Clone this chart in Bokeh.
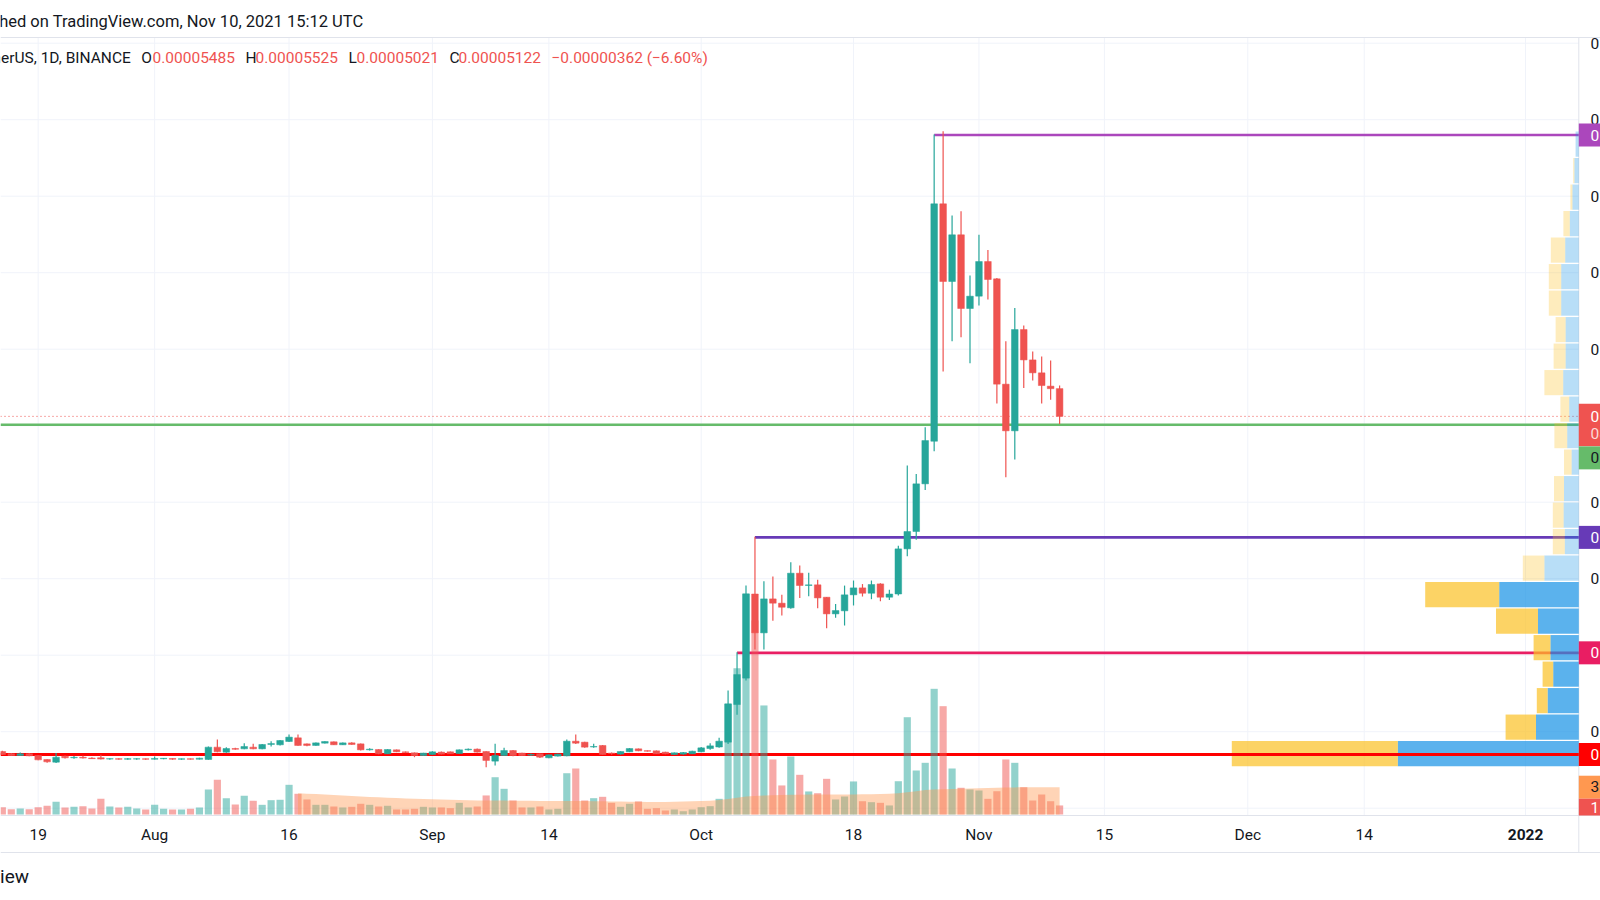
import pandas as pd
from bokeh.plotting import figure
from bokeh.models import Range1d
from bokeh.core.properties import value
from bokeh.embed import file_html
from bokeh.resources import INLINE

# ======================= DATA =======================
# SHIB / TetherUS, 1D, BINANCE -- prices in units of 1e-5 USDT
first_day = "2021-07-15"
open_ = [0.741, 0.711, 0.689, 0.711, 0.689, 0.637, 0.602, 0.680, 0.659, 0.666,
         0.655, 0.660, 0.642, 0.648, 0.640, 0.642, 0.646, 0.640, 0.646, 0.650,
         0.640, 0.646, 0.640, 0.637, 0.798, 0.733, 0.780, 0.776, 0.798, 0.776,
         0.833, 0.829, 0.872, 0.920, 0.841, 0.820, 0.850, 0.868, 0.829, 0.854,
         0.841, 0.763, 0.767, 0.711, 0.763, 0.737, 0.724, 0.689, 0.702, 0.733,
         0.737, 0.715, 0.763, 0.772, 0.741, 0.615, 0.689, 0.754, 0.720, 0.694,
         0.711, 0.659, 0.681, 0.685, 0.876, 0.863, 0.800, 0.820, 0.720, 0.707,
         0.737, 0.776, 0.752, 0.750, 0.733, 0.702, 0.707, 0.711, 0.737, 0.780,
         0.800, 0.863, 1.355, 1.700, 2.800, 2.292, 2.736, 2.680, 2.619, 3.072,
         2.911, 2.920, 2.758, 2.540, 2.580, 2.789, 2.880, 2.810, 2.932, 2.758,
         2.800, 3.390, 3.617, 4.240, 4.797, 7.900, 6.885, 7.495, 6.532, 6.693,
         7.146, 6.920, 5.543, 4.933, 6.257, 5.860, 5.691, 5.517, 5.485]
high = [0.750, 0.720, 0.728, 0.720, 0.693, 0.640, 0.720, 0.690, 0.681, 0.685,
        0.667, 0.700, 0.654, 0.652, 0.655, 0.652, 0.650, 0.676, 0.655, 0.654,
        0.650, 0.650, 0.660, 0.805, 0.898, 0.798, 0.789, 0.850, 0.841, 0.838,
        0.876, 0.890, 0.963, 0.963, 0.845, 0.860, 0.876, 0.872, 0.858, 0.863,
        0.845, 0.785, 0.772, 0.772, 0.767, 0.741, 0.728, 0.724, 0.745, 0.741,
        0.741, 0.767, 0.780, 0.780, 0.745, 0.841, 0.789, 0.760, 0.724, 0.715,
        0.715, 0.702, 0.711, 0.898, 0.963, 0.868, 0.841, 0.825, 0.728, 0.745,
        0.785, 0.780, 0.754, 0.754, 0.737, 0.728, 0.735, 0.750, 0.800, 0.850,
        0.920, 1.539, 2.040, 2.910, 3.550, 2.967, 3.030, 2.790, 3.216, 3.172,
        3.077, 2.985, 2.760, 2.670, 2.910, 2.976, 2.930, 2.976, 2.940, 2.854,
        3.430, 4.479, 4.370, 4.980, 8.807, 8.850, 7.747, 7.804, 6.963, 7.495,
        7.298, 6.930, 6.105, 6.540, 6.310, 5.970, 5.904, 5.852, 5.525]
low = [0.695, 0.685, 0.681, 0.680, 0.628, 0.593, 0.590, 0.650, 0.646, 0.650,
       0.644, 0.636, 0.632, 0.634, 0.634, 0.632, 0.634, 0.636, 0.640, 0.634,
       0.634, 0.636, 0.636, 0.632, 0.733, 0.724, 0.763, 0.772, 0.772, 0.772,
       0.806, 0.820, 0.865, 0.815, 0.810, 0.815, 0.845, 0.825, 0.825, 0.830,
       0.755, 0.754, 0.705, 0.707, 0.733, 0.720, 0.667, 0.685, 0.698, 0.702,
       0.707, 0.711, 0.754, 0.728, 0.536, 0.558, 0.685, 0.680, 0.685, 0.685,
       0.655, 0.654, 0.677, 0.680, 0.840, 0.790, 0.789, 0.698, 0.700, 0.700,
       0.733, 0.745, 0.741, 0.707, 0.705, 0.698, 0.700, 0.707, 0.730, 0.765,
       0.790, 0.840, 1.220, 1.670, 2.075, 2.075, 2.450, 2.520, 2.606, 2.749,
       2.770, 2.614, 2.353, 2.490, 2.388, 2.650, 2.767, 2.732, 2.706, 2.720,
       2.780, 3.294, 3.510, 4.161, 4.667, 5.708, 6.105, 6.157, 5.817, 6.571,
       6.649, 5.290, 4.327, 4.558, 5.494, 5.590, 5.290, 5.338, 5.021]
close = [0.702, 0.689, 0.711, 0.685, 0.632, 0.606, 0.667, 0.659, 0.665, 0.655,
         0.648, 0.642, 0.648, 0.640, 0.648, 0.646, 0.640, 0.650, 0.652, 0.640,
         0.646, 0.640, 0.654, 0.798, 0.737, 0.780, 0.770, 0.806, 0.776, 0.833,
         0.845, 0.885, 0.929, 0.820, 0.820, 0.854, 0.872, 0.829, 0.854, 0.833,
         0.763, 0.772, 0.711, 0.767, 0.737, 0.728, 0.689, 0.720, 0.737, 0.707,
         0.711, 0.763, 0.772, 0.733, 0.624, 0.689, 0.754, 0.689, 0.689, 0.702,
         0.667, 0.698, 0.707, 0.876, 0.850, 0.798, 0.806, 0.702, 0.715, 0.741,
         0.780, 0.750, 0.745, 0.711, 0.711, 0.724, 0.728, 0.745, 0.789, 0.815,
         0.876, 1.364, 1.747, 2.802, 2.292, 2.736, 2.680, 2.627, 3.072, 2.911,
         2.920, 2.749, 2.540, 2.584, 2.789, 2.880, 2.810, 2.924, 2.758, 2.800,
         3.390, 3.617, 4.240, 4.806, 7.900, 6.885, 7.495, 6.532, 6.693, 7.146,
         6.911, 5.543, 4.933, 6.257, 5.860, 5.691, 5.525, 5.484, 5.122]
# volume, trillions of SHIB
volume_t = [0.91, 0.66, 0.75, 0.66, 0.91, 1.09, 1.59, 0.88, 0.96, 1.04,
            0.75, 1.96, 1.00, 0.88, 0.96, 0.75, 0.63, 1.21, 0.71, 0.63,
            0.63, 0.71, 0.88, 3.13, 4.34, 2.04, 1.25, 2.34, 1.71, 1.21,
            1.79, 1.84, 3.71, 2.59, 1.88, 1.21, 1.21, 1.00, 0.88, 0.96,
            1.34, 1.21, 1.00, 1.09, 0.63, 0.63, 0.71, 0.96, 0.88, 0.88,
            0.79, 1.46, 0.88, 1.00, 2.38, 4.66, 3.21, 1.75, 0.88, 0.88,
            1.00, 0.63, 0.71, 5.16, 5.75, 1.75, 2.04, 2.21, 1.46, 0.96,
            1.34, 1.63, 0.71, 0.79, 0.50, 0.63, 0.41, 0.63, 0.91, 1.04,
            1.96, 13.84, 18.29, 27.6, 24.25, 13.63, 6.88, 3.63, 7.25, 4.96,
            2.88, 2.66, 4.46, 1.88, 2.25, 4.13, 1.66, 1.54, 1.46, 1.13,
            4.16, 12.16, 5.50, 6.46, 15.71, 13.54, 5.75, 3.34, 3.13, 3.00,
            1.96, 2.91, 6.88, 6.46, 3.41, 1.75, 2.50, 1.66, 1.13]
# volume moving average (orange area), trillions, from 2021-08-17
vol_ma_start = "2021-08-17"
vol_ma_t = [2.66, 2.60, 2.55, 2.50, 2.45, 2.38, 2.30, 2.25, 2.20, 2.15, 2.10, 2.05, 2.00, 1.97, 1.93,
            1.90, 1.86, 1.83, 1.80, 1.78, 1.76, 1.75, 1.74, 1.74, 1.73,
            1.72, 1.71, 1.70, 1.69, 1.68, 1.68, 1.69, 1.68, 1.67, 1.66,
            1.64, 1.62, 1.60, 1.58, 1.57, 1.56, 1.56, 1.60, 1.63, 1.66,
            1.68, 1.72, 1.80, 1.95, 2.10, 2.25, 2.30, 2.38, 2.42, 2.45,
            2.47, 2.48, 2.49, 2.50, 2.50, 2.50, 2.50, 2.51, 2.52, 2.54,
            2.56, 2.60, 2.66, 2.78, 2.92, 3.05, 3.12, 3.16, 3.20, 3.22, 3.25,
            3.28, 3.31, 3.34, 3.37, 3.39, 3.41, 3.41, 3.41, 3.41, 3.41]

# horizontal levels (price 1e-5), start dates, colours
level_prices = [8.80, 5.012, 3.54, 2.031]
level_starts = ["2021-10-27", "2021-07-01", "2021-10-07", "2021-10-05"]
level_colors = ["#ab47bc", "#66bb6a", "#673ab7", "#e91e63"]
support_price = 0.702
support_start = "2021-07-01"
support_color = "#ff0000"

# visible-range volume profile: 24 rows between low and high (trillions)
profile_low = 0.54
profile_high = 8.854
profile_up = [45.25, 10.7, 7.8, 6.4, 7.1, 10.2, 19.9, 8.6, 3.5, 3.8, 3.7, 1.8,
              2.9, 2.4, 3.9, 3.3, 3.3, 4.4, 4.4, 3.4, 2.25, 1.6, 1.1, 0.8]
profile_down = [41.5, 7.6, 2.7, 2.65, 4.2, 10.5, 18.5, 5.4, 3.0, 2.7, 2.5, 1.9,
                3.2, 2.2, 4.7, 3.0, 2.5, 3.1, 3.1, 3.6, 1.6, 0.5, 0.3, 0.0]
value_area_rows = 7

price_ticks = [0, 1, 2, 3, 4, 5, 6, 7, 8, 9, 10]
price_labels_shown = [1, 3, 4, 6, 7, 8, 9, 10]
time_ticks = ["2021-07-19", "2021-08-01", "2021-08-16", "2021-09-01", "2021-09-14", "2021-10-01",
              "2021-10-18", "2021-11-01", "2021-11-15", "2021-12-01", "2021-12-14", "2022-01-01"]
time_labels = ["19", "Aug", "16", "Sep", "14", "Oct", "18", "Nov", "15", "Dec", "14", "2022"]
countdown = "08:47:22"

# ======================= LAYOUT =======================
W, H = 1600, 900
X_REF_PX, PX_PER_DAY = 700.7, 8.96        # 2021-10-01 position
Y_ZERO_PX, PX_PER_UNIT = 807.7, 76.5      # price 0 position, px per 1e-5
VOL_ZERO_PX, PX_PER_T = 814.0, 8.0
AXIS_PX = 1578.3
PX_PER_PROF_T = 4.0
TOP_PX, PANE_BOTTOM_PX, TIME_BOTTOM_PX = 37, 815, 852
FONT = value("Roboto")
TXT = "#131722"
UP, DOWN = "#26a69a", "#ef5350"

n = len(open_)
assert n == len(high) == len(low) == len(close) == len(volume_t) == 119
dates = pd.date_range(first_day, periods=n, freq="D")
ma_dates = pd.date_range(vol_ma_start, periods=len(vol_ma_t), freq="D")
assert ma_dates[-1] == dates[-1]

ref = pd.Timestamp("2021-10-01")
DAY = 86400000.0


def tx(px):
    return ref + pd.Timedelta(days=(px - X_REF_PX) / PX_PER_DAY)


def py(px):
    return (Y_ZERO_PX - px) / PX_PER_UNIT


def dpy(px):
    return px / PX_PER_UNIT


p = figure(width=W, height=H, output_backend="svg", toolbar_location=None,
           x_range=Range1d(tx(0), tx(W)), y_range=Range1d(py(H), py(0)),
           x_axis_location=None, y_axis_location=None, min_border=0)
p.min_border_left = p.min_border_right = p.min_border_top = p.min_border_bottom = 0
p.outline_line_color = None
p.background_fill_color = "white"
p.border_fill_color = "white"
p.xgrid.visible = False
p.ygrid.visible = False
p.extra_y_ranges = {"vol": Range1d(-(H - VOL_ZERO_PX) / PX_PER_T, VOL_ZERO_PX / PX_PER_T)}
p.extra_x_ranges = {"prof": Range1d(AXIS_PX / PX_PER_PROF_T, (AXIS_PX - W) / PX_PER_PROF_T)}

x_left, x_axis, x_right = tx(0), tx(AXIS_PX), tx(W)
tt = [pd.Timestamp(t) for t in time_ticks]

# grid
p.segment(x0=[x_left] * len(price_ticks), x1=[x_axis] * len(price_ticks),
          y0=price_ticks, y1=price_ticks, line_color="#f0f3fa", line_width=1)
p.segment(x0=tt, x1=tt, y0=[py(TOP_PX)] * len(tt), y1=[py(PANE_BOTTOM_PX)] * len(tt),
          line_color="#f0f3fa", line_width=1)
# pane borders
for yb in (TOP_PX, PANE_BOTTOM_PX, TIME_BOTTOM_PX):
    p.segment(x0=[x_left], x1=[x_right], y0=[py(yb)], y1=[py(yb)], line_color="#e0e3eb", line_width=1)
p.segment(x0=[x_axis], x1=[x_axis], y0=[py(TOP_PX)], y1=[py(TIME_BOTTOM_PX)], line_color="#e0e3eb", line_width=1)

# horizontal levels
for lp, ls, lc in zip(level_prices, level_starts, level_colors):
    s = max(pd.Timestamp(ls), x_left)
    p.segment(x0=[s], x1=[x_axis], y0=[lp], y1=[lp], line_color=lc, line_width=2.6)
# last price dotted line
p.segment(x0=[x_left], x1=[x_axis], y0=[close[-1]], y1=[close[-1]],
          line_color=DOWN, line_width=1, line_dash="1 3")

# volume profile
nrows = len(profile_up)
step = (profile_high - profile_low) / nrows
centers = [profile_low + (i + 0.5) * step for i in range(nrows)]
alphas = [0.7 if i < value_area_rows else 0.3 for i in range(nrows)]
hgt = step * 0.95
p.hbar(y=centers, left=[0] * nrows, right=profile_up, height=hgt, x_range_name="prof",
       fill_color="#1592e6", fill_alpha=alphas, line_color=None)
p.hbar(y=centers, left=profile_up, right=[u + d for u, d in zip(profile_up, profile_down)],
       height=hgt, x_range_name="prof", fill_color="#fbc123", fill_alpha=alphas, line_color=None)

# support line on top
p.segment(x0=[max(pd.Timestamp(support_start), x_left)], x1=[x_axis], y0=[support_price], y1=[support_price],
          line_color=support_color, line_width=2.8)

# candles
cols = [UP if c >= o else DOWN for o, c in zip(open_, close)]
p.segment(x0=dates, x1=dates, y0=low, y1=high, line_color=cols, line_width=1.2)
p.vbar(x=dates, width=0.74 * DAY, top=[max(o, c) for o, c in zip(open_, close)],
       bottom=[min(o, c) for o, c in zip(open_, close)], fill_color=cols, line_color=cols, line_width=0.5)

# volume
p.vbar(x=dates, width=0.8 * DAY, top=volume_t, bottom=0, y_range_name="vol",
       fill_color=cols, fill_alpha=0.5, line_color=None)
p.varea(x=ma_dates, y1=[0] * len(vol_ma_t), y2=vol_ma_t, y_range_name="vol",
        fill_color="#ff9850", fill_alpha=0.42)

# price axis labels
p.text(x=[tx(1590)] * len(price_labels_shown), y=price_labels_shown,
       text=[f"{v * 1e-5:.8f}" for v in price_labels_shown], text_font=FONT,
       text_font_size="15.5px", text_color=TXT, text_baseline="middle", text_align="left")


# tags
def tag(center, half, fill, label, tcolor="white", yr=None, top=None, bottom=None):
    t = center + half if top is None else top
    b = center - half if bottom is None else bottom
    kw = {"y_range_name": yr} if yr else {}
    p.quad(left=[x_axis], right=[x_right], top=[t], bottom=[b], fill_color=fill, line_color=None, **kw)
    p.text(x=[tx(1590)], y=[center], text=[label], text_font=FONT, text_font_size="15.5px",
           text_color=tcolor, text_baseline="middle", text_align="left", **kw)


half_p = dpy(11.5)
for lp, lc in zip(level_prices, level_colors):
    if lc == "#66bb6a":
        continue
    tag(lp, half_p, lc, f"{lp * 1e-5:.8f}")
tag(support_price, half_p, support_color, f"{support_price * 1e-5:.8f}")
# last price tag (two lines)
ctop = close[-1] + dpy(12.6)
cbot = close[-1] - dpy(30)
p.quad(left=[x_axis], right=[x_right], top=[ctop], bottom=[cbot], fill_color=DOWN, line_color=None)
p.text(x=[tx(1590)] * 2, y=[close[-1], close[-1] - dpy(18)], text=[f"{close[-1] * 1e-5:.8f}", countdown],
       text_font=FONT, text_font_size="15.5px", text_color=["white", "#fcd9d8"],
       text_baseline="middle", text_align="left")
# green level tag displaced under the price tag
tag(cbot - half_p, half_p, "#66bb6a", f"{level_prices[1] * 1e-5:.8f}", tcolor=TXT)
# volume tags
half_v = 11.5 / PX_PER_T
tag(vol_ma_t[-1], half_v, "#ff9850", f"{vol_ma_t[-1]:.2f}T", tcolor=TXT, yr="vol")
vt_top = vol_ma_t[-1] - half_v
vt_bot = -(PANE_BOTTOM_PX - VOL_ZERO_PX) / PX_PER_T
tag(vt_top - half_v * 0.85, half_v, DOWN, f"{volume_t[-1]:.2f}T", yr="vol", top=vt_top, bottom=vt_bot)

# time axis labels
p.text(x=tt[:-1], y=[py(834)] * (len(tt) - 1), text=time_labels[:-1], text_font=FONT,
       text_font_size="15.5px", text_color=TXT, text_align="center", text_baseline="middle")
p.text(x=tt[-1:], y=[py(834)], text=time_labels[-1:], text_font=FONT, text_font_style="bold",
       text_font_size="15.5px", text_color=TXT, text_align="center", text_baseline="middle")

# header
p.text(x=[tx(363)], y=[py(20.5)], text=["Published on TradingView.com, Nov 10, 2021 15:12 UTC"],
       text_font=FONT, text_font_size="16.5px", text_color=TXT, text_align="right", text_baseline="middle")
chg = close[-1] - close[-2]
pct = chg / close[-2] * 100
legend_y = py(57)
p.text(x=[tx(130.6)], y=[legend_y], text=["SHIB / TetherUS, 1D, BINANCE"], text_font=FONT,
       text_font_size="15.5px", text_color=TXT, text_align="right", text_baseline="middle")
p.text(x=[tx(140.8), tx(245), tx(348), tx(449)], y=[legend_y] * 4, text=["O", "H", "L", "C"],
       text_font=FONT, text_font_size="15.5px", text_color=TXT, text_align="left", text_baseline="middle")
vals = [f"{open_[-1] * 1e-5:.8f}", f"{high[-1] * 1e-5:.8f}", f"{low[-1] * 1e-5:.8f}", f"{close[-1] * 1e-5:.8f}",
        f"\u2212{abs(chg) * 1e-5:.8f} (\u2212{abs(pct):.2f}%)"]
p.text(x=[tx(152), tx(255), tx(356), tx(458), tx(551)], y=[legend_y] * 5, text=vals,
       text_font=FONT, text_font_size="15.5px", text_color=DOWN, text_align="left", text_baseline="middle")
# footer logo text
p.text(x=[tx(28.5)], y=[py(876)], text=["TradingView"], text_font=FONT, text_font_size="19px",
       text_color=TXT, text_align="right", text_baseline="middle")

open("out.html", "w").write(file_html(p, INLINE))
